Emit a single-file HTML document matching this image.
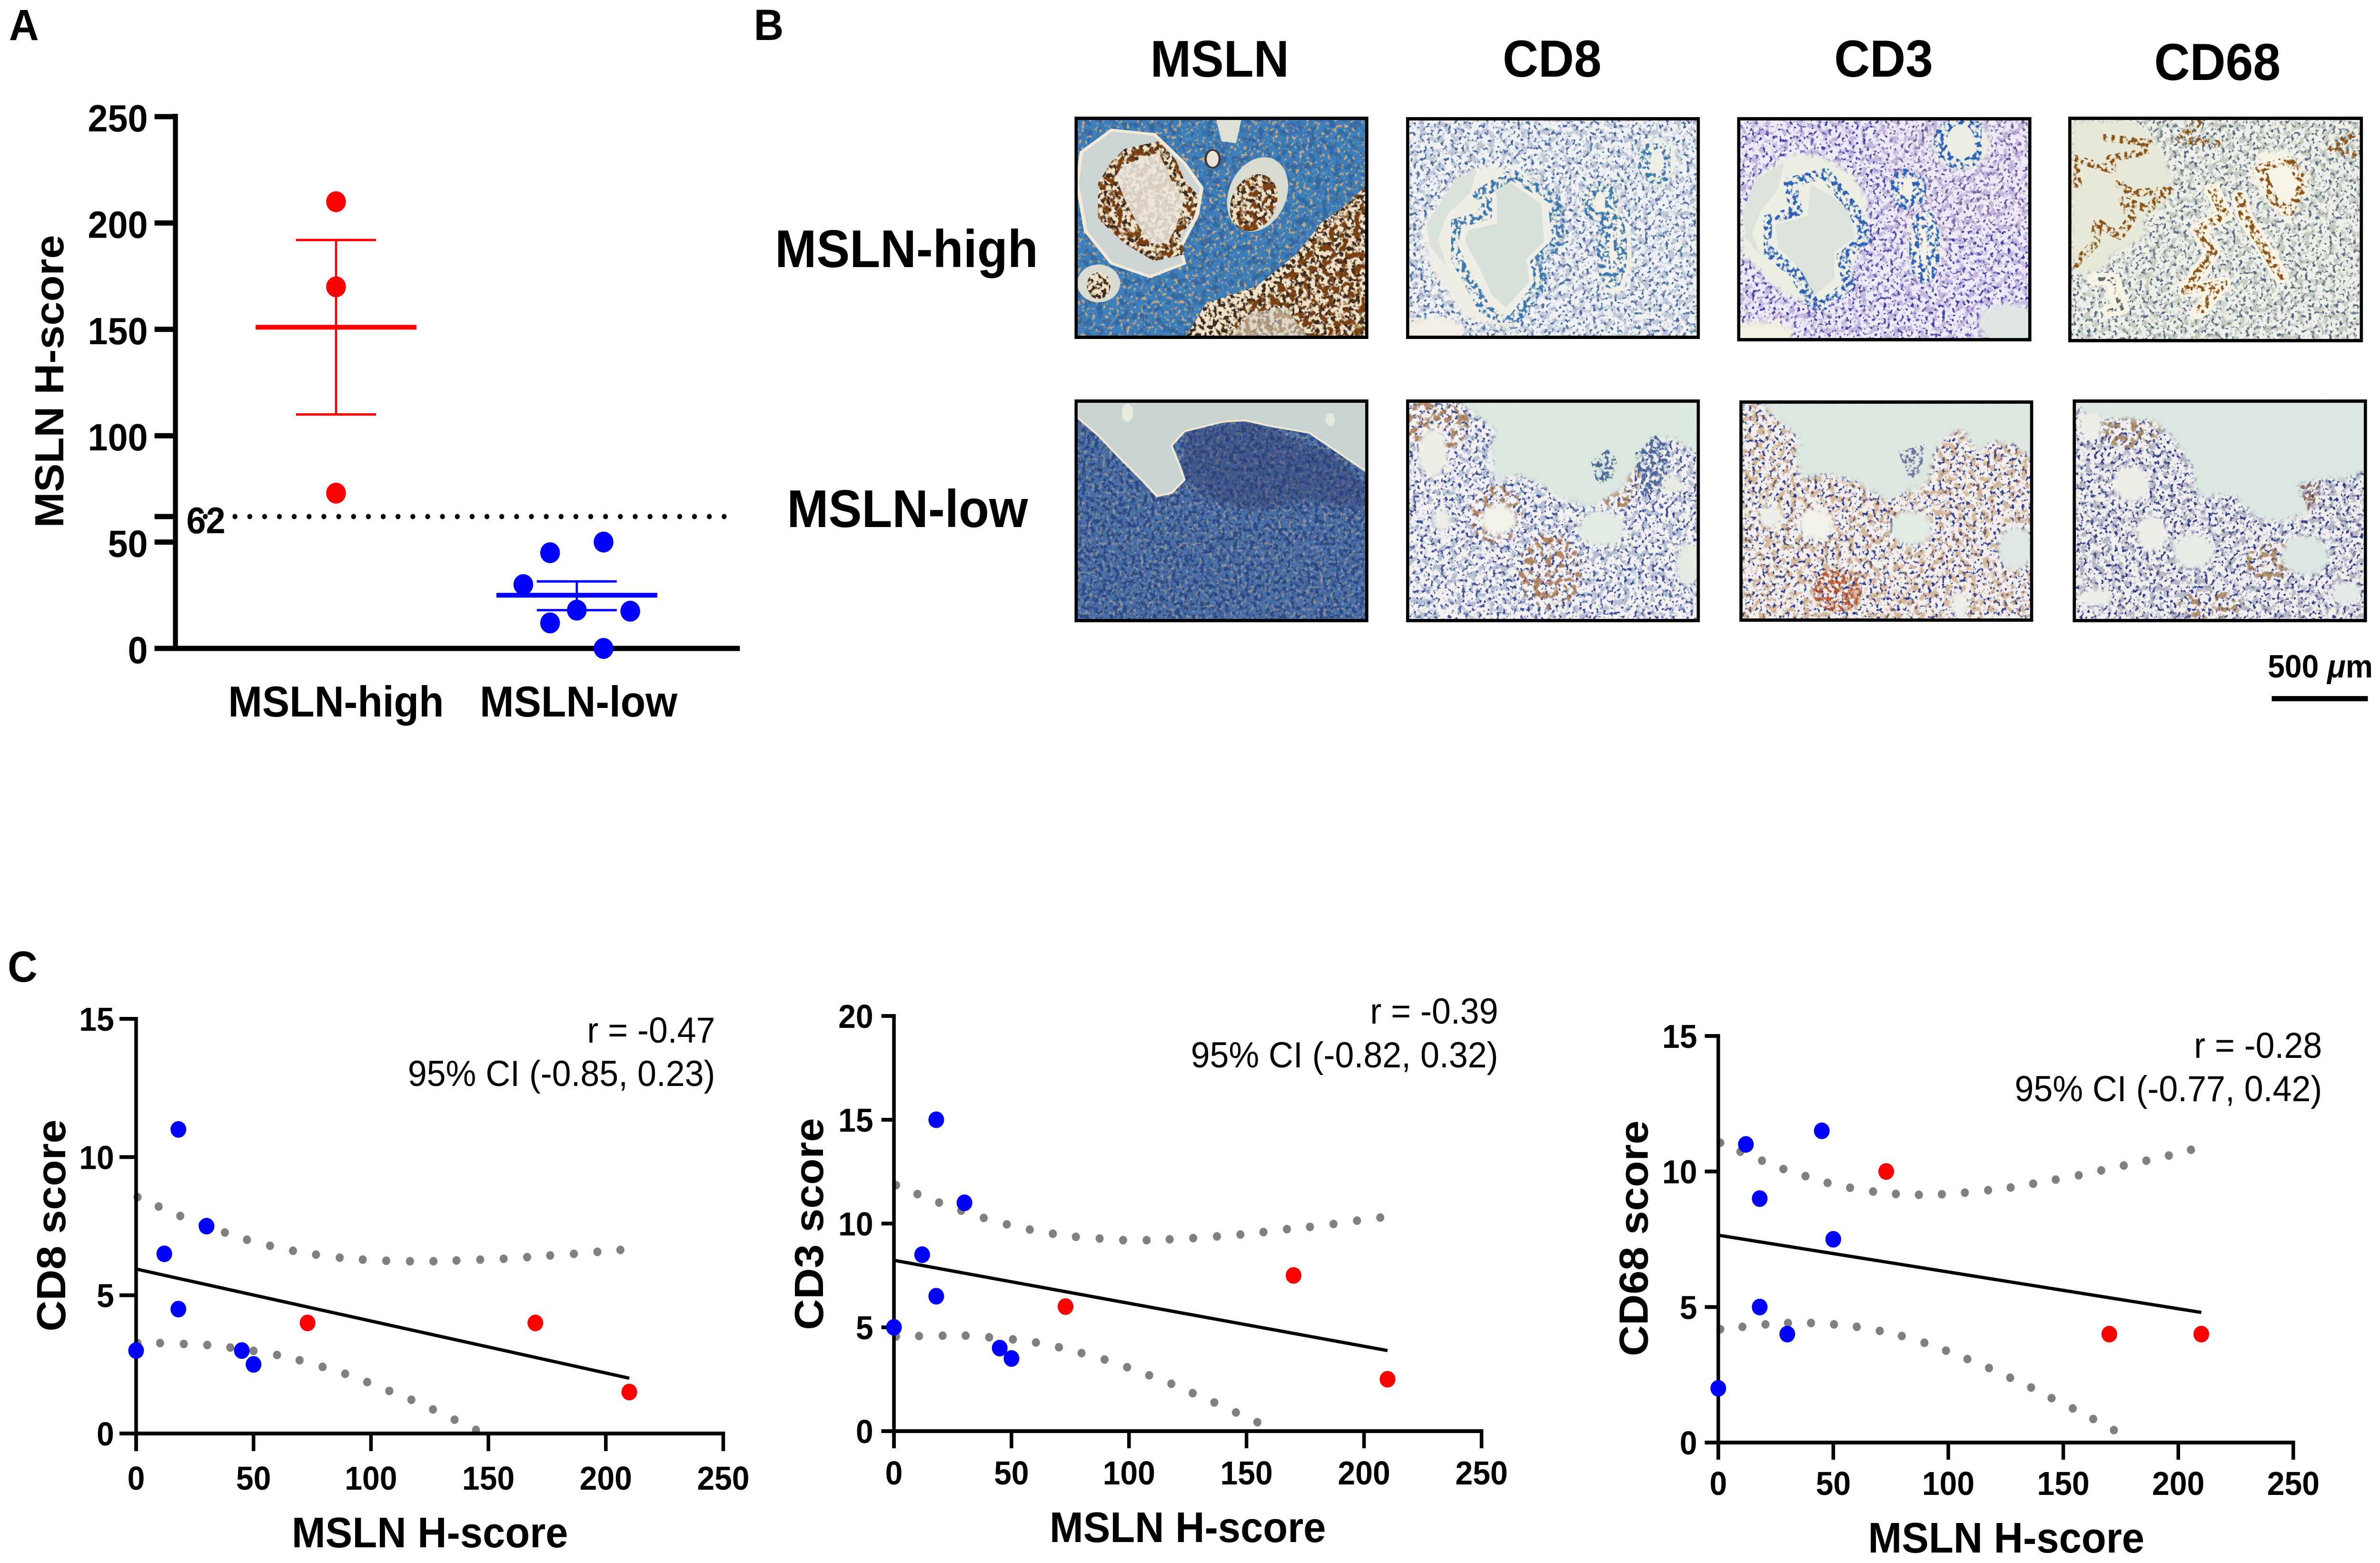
<!DOCTYPE html>
<html lang="en">
<head>
<meta charset="utf-8">
<title>MSLN H-score and immune infiltration</title>
<style>
html,body{margin:0;padding:0;background:#fff;width:100%;height:100%;overflow:hidden}
svg{display:block;width:100vw;height:100vh}
text{font-family:"Liberation Sans",Arial,sans-serif;fill:#000}
.b{font-weight:700}
</style>
</head>
<body>
<svg id="fig" xmlns="http://www.w3.org/2000/svg" viewBox="0 0 5298 3283" preserveAspectRatio="none">
<defs>
<filter id="s1" x="0" y="0" width="100%" height="100%" color-interpolation-filters="sRGB">
<feTurbulence type="fractalNoise" baseFrequency=".11" numOctaves="2" seed="3" result="n"/>
<feColorMatrix in="n" type="matrix" values="0 0 0 0 0 0 0 0 0 0 0 0 0 0 0 7 0 0 0 -3.3" result="m"/>
<feComposite in="SourceGraphic" in2="m" operator="in"/>
</filter>
<filter id="s2" x="0" y="0" width="100%" height="100%" color-interpolation-filters="sRGB">
<feTurbulence type="fractalNoise" baseFrequency=".13" numOctaves="2" seed="9" result="n"/>
<feColorMatrix in="n" type="matrix" values="0 0 0 0 0 0 0 0 0 0 0 0 0 0 0 8 0 0 0 -4.5" result="m"/>
<feComposite in="SourceGraphic" in2="m" operator="in"/>
</filter>
<filter id="s3" x="0" y="0" width="100%" height="100%" color-interpolation-filters="sRGB">
<feTurbulence type="fractalNoise" baseFrequency=".07" numOctaves="2" seed="5" result="n"/>
<feColorMatrix in="n" type="matrix" values="0 0 0 0 0 0 0 0 0 0 0 0 0 0 0 7 0 0 0 -3.5" result="m"/>
<feComposite in="SourceGraphic" in2="m" operator="in"/>
</filter>
<filter id="soft" x="-3%" y="-3%" width="106%" height="106%"><feGaussianBlur stdDeviation="5"/></filter>
<clipPath id="c1"><rect x="2392" y="245" width="654" height="467"/></clipPath>
<clipPath id="c2"><rect x="3130" y="246" width="654" height="466"/></clipPath>
<clipPath id="c3"><rect x="3867" y="246" width="655" height="471"/></clipPath>
<clipPath id="c4"><rect x="4604" y="245" width="656" height="474"/></clipPath>
<clipPath id="c5"><rect x="2392" y="839" width="654" height="468"/></clipPath>
<clipPath id="c6"><rect x="3130" y="839" width="654" height="468"/></clipPath>
<clipPath id="c7"><rect x="3872" y="841" width="654" height="465"/></clipPath>
<clipPath id="c8"><rect x="4614" y="839" width="655" height="468"/></clipPath>
</defs>
<rect width="5298" height="3283" fill="#fff"/>

<text class="b" x="20" y="84" font-size="92">A</text>
<text class="b" x="1678" y="84" font-size="92">B</text>
<text class="b" x="17" y="2062" font-size="92">C</text>

<g>
<text class="b" x="2715" y="161" font-size="109" text-anchor="middle">MSLN</text>
<text class="b" x="3455" y="161" font-size="110" text-anchor="middle">CD8</text>
<text class="b" x="4193" y="161" font-size="110" text-anchor="middle">CD3</text>
<text class="b" x="4936" y="168" font-size="110" text-anchor="middle">CD68</text>
<text class="b" x="2018" y="561" font-size="111" text-anchor="middle">MSLN-high</text>
<text class="b" x="2020" y="1107" font-size="111" text-anchor="middle">MSLN-low</text>
<text class="b" x="5282" y="1423" font-size="68" text-anchor="end">500 <tspan font-style="italic">μ</tspan>m</text>
<rect x="5057" y="1462" width="214" height="11" fill="#000"/>

<!-- MSLN high -->
<g clip-path="url(#c1)">
<rect x="2392" y="245" width="654" height="467" fill="#3d7fbb"/>
<rect x="2392" y="245" width="654" height="467" fill="#c9a77e" filter="url(#s2)"/>
<rect x="2392" y="245" width="654" height="467" fill="#2a5a94" filter="url(#s3)" opacity=".6"/>
<g transform="translate(2392 245) scale(6.54 4.67)">
<polygon fill="#efe2c6" points="100,30 100,100 37.5,100 44.7,84 62,76.2 75.4,62 84,47.8 93,39"/>
<polygon fill="#cdd5d4" stroke="#f2ead6" stroke-width="1.2" points="12.6,6 27.2,8 37.4,21 43.3,32 41.8,44 36,59 37.4,66 25.7,72 12.6,66 3.8,51.5 .9,30 2.3,16"/>
<polygon fill="#efe2c6" points="17,14.5 28.6,11 34.5,19.5 37.4,28.7 42.5,36 40.3,46 36,53.6 37.4,62 27,65 17,57 8,46 8,30 12.6,20.2"/>
<ellipse cx="62.3" cy="35" rx="10" ry="17" fill="#d8dbd0" transform="rotate(12 62.3 35)"/>
<ellipse cx="61" cy="38.7" rx="7.8" ry="13" fill="#efe2c6" transform="rotate(12 61 38.7)"/>
<ellipse cx="8.2" cy="75" rx="7.3" ry="8.5" fill="#d8dbd0"/>
<ellipse cx="8.2" cy="76" rx="4" ry="6" fill="#efe2c6"/>
<ellipse cx="47" cy="19" rx="2.4" ry="4" fill="#e8e4d4" stroke="#3c3a3a" stroke-width=".8"/>
<polygon fill="#dfe0d4" points="48,0 57,0 55,12 50,11"/>
</g>
<g filter="url(#s1)"><g transform="translate(2392 245) scale(6.54 4.67)" fill="#3c2a1e">
<polygon points="100,30 100,100 37.5,100 44.7,84 62,76.2 75.4,62 84,47.8 93,39"/>
<polygon points="17,14.5 28.6,11 34.5,19.5 37.4,28.7 42.5,36 40.3,46 36,53.6 37.4,62 27,65 17,57 8,46 8,30 12.6,20.2"/>
<ellipse cx="61" cy="38.7" rx="7.8" ry="13" transform="rotate(12 61 38.7)"/>
<ellipse cx="8.2" cy="76" rx="4" ry="6"/>
</g></g>
<g filter="url(#s3)"><g transform="translate(2392 245) scale(6.54 4.67)" fill="#7a4012">
<polygon points="100,30 100,100 52,100 58,84 68,76.2 78,62 86,48 93,39"/>
<polygon points="17,14.5 28.6,11 34.5,19.5 37.4,28.7 42.5,36 40.3,46 36,53.6 37.4,62 27,65 17,57 8,46 8,30 12.6,20.2"/>
<ellipse cx="61" cy="38.7" rx="7.8" ry="13" transform="rotate(12 61 38.7)"/>
</g></g>
<g transform="translate(2392 245) scale(6.54 4.67)">
<polygon fill="#ece8de" opacity=".85" points="17,21.6 28.6,16 33,28.7 37.4,37.2 34.5,50 31.6,57 25.7,57 21.3,48 17,37.2 14,26.6"/>
<polygon fill="#d8d4c4" opacity=".6" points="52,100 60,88 72,86 80,100"/>
</g>
</g>
<rect x="2395.5" y="248.5" width="647" height="460" fill="none" stroke="#000" stroke-width="7"/>

<!-- CD8 high -->
<g clip-path="url(#c2)">
<rect x="3130" y="246" width="654" height="466" fill="#eff1f3"/>
<rect x="3130" y="246" width="654" height="466" fill="#4a6a9c" filter="url(#s2)"/>
<rect x="3130" y="246" width="654" height="466" fill="#7f8fb0" filter="url(#s3)" opacity=".4"/>
<g filter="url(#soft)"><g transform="translate(3130 246) scale(6.54 4.66)">
<polygon fill="#f0efe6" points="27,21.7 39.3,23.5 50.4,37 51.9,56 44.5,65.6 46,74.8 36,92.7 35.8,95.5 19.7,90 8,67.7 5,51 12.4,37 16.8,27.8"/>
<ellipse cx="66" cy="38.5" rx="7" ry="9" fill="#f2f0e4"/>
<ellipse cx="71" cy="62" rx="6" ry="18" fill="#f2f0e6"/>
<ellipse cx="85.5" cy="20" rx="7" ry="11" fill="#eeefe6"/>
<ellipse cx="10" cy="96" rx="10" ry="6" fill="#f2f0e4"/>
</g></g>
<g transform="translate(3130 246) scale(6.54 4.66)">
<polygon fill="#d8e0da" points="30,29 36,30 46,39 47,56 41,64 42,74 34,86 29,80 25,68 20,56 21,51 31,48 31,38"/>
<polygon fill="#dae2dc" points="17,28 24,24 22,34 14,44 11,55 14,68 8,58 7,48 12,38"/>
</g>
<g filter="url(#s1)"><g transform="translate(3130 246) scale(6.54 4.66)" fill="none" stroke="#3f78ac" stroke-width="4.5" stroke-linejoin="round">
<polygon points="24.9,35 35.8,25.7 50.4,37 51.9,56 44.5,65.6 46,74.8 36,92.7 27,87 21,72.7 15.4,58.5 16.8,48 27,44.4 27,37"/>
<ellipse cx="66" cy="38" rx="4" ry="7"/><ellipse cx="70" cy="60" rx="3" ry="15"/><ellipse cx="85.5" cy="20" rx="4.5" ry="8"/>
</g></g>
</g>
<rect x="3133.5" y="249.5" width="647" height="459" fill="none" stroke="#000" stroke-width="7"/>

<!-- CD3 high -->
<g clip-path="url(#c3)">
<rect x="3867" y="246" width="655" height="471" fill="#efebf6"/>
<rect x="3867" y="246" width="655" height="471" fill="#3e3ea4" filter="url(#s2)"/>
<rect x="3867" y="246" width="655" height="471" fill="#9a86c4" filter="url(#s3)" opacity=".5"/>
<rect x="4200" y="246" width="322" height="240" fill="#c48f8f" filter="url(#s2)" opacity=".35"/>
<g filter="url(#soft)"><g transform="translate(3867 246) scale(6.55 4.71)">
<polygon fill="#eeefe4" points="18.6,16 30,18 39.7,26 44,36.7 44,54 39.7,65 38.3,75.5 30,86 15.8,79 1.7,61 1.7,43.7 7.3,26"/>
<ellipse cx="58" cy="32" rx="6" ry="8" fill="#f2f0e4"/>
<ellipse cx="63.7" cy="58" rx="6" ry="16" fill="#f4f2e8"/>
<ellipse cx="76" cy="12" rx="10" ry="12" fill="#eceee6"/>
<ellipse cx="8" cy="97" rx="11" ry="6" fill="#f2f0e0"/>
<ellipse cx="92" cy="92" rx="10" ry="9" fill="#dfe6e4"/>
</g></g>
<g transform="translate(3867 246) scale(6.55 4.71)">
<polygon fill="#dbe3da" points="25,30 33,36 38,42 40,54 33,60 33,72 26,80 20,66 14,58 13,48 24,44"/>
<polygon fill="#dbe3da" points="6,28 16,20 14,32 8,42 5,52 8,62 3,54 2,42"/>
</g>
<g filter="url(#s1)"><g transform="translate(3867 246) scale(6.55 4.71)" fill="none" stroke="#2f62b4" stroke-width="4.5" stroke-linejoin="round">
<polygon points="18,29 30,25 40,42 44,54 36,62 38,75 27,86 20,70 9,58 10,46 20,42"/>
<ellipse cx="58" cy="32" rx="4" ry="7"/><ellipse cx="63.7" cy="58" rx="3" ry="14"/><ellipse cx="76" cy="11" rx="7" ry="10"/>
</g></g>
</g>
<rect x="3870.5" y="249.5" width="648" height="464" fill="none" stroke="#000" stroke-width="7"/>

<!-- CD68 high -->
<g clip-path="url(#c4)">
<rect x="4604" y="245" width="656" height="474" fill="#eff0e8"/>
<rect x="4604" y="245" width="656" height="474" fill="#566a84" filter="url(#s2)"/>
<rect x="4604" y="245" width="656" height="474" fill="#9aa49a" filter="url(#s3)" opacity=".45"/>
<g filter="url(#soft)"><g transform="translate(4604 245) scale(6.56 4.74)">
<polygon fill="#e8e8d8" points="1,1.7 22.8,1.7 31.4,14 34.2,22.7 35.6,33.9 31.4,41 25.8,44 25.8,54 14.5,62 11.7,68 3.2,70.3 1,67"/>
<polygon fill="#f6f4e6" points="65.2,16 75,14 82,29.7 75,47 67,38 62,26"/>
</g></g>
<g transform="translate(4604 245) scale(6.56 4.74)" fill="none" stroke="#f7f4e6" stroke-width="5.5" stroke-linejoin="round" stroke-linecap="round">
<polyline points="49,32.5 53.2,43.7 44,50 49,60 39.9,77.3 52.5,73.8 44,87"/>
<polyline points="58.2,35.3 59.6,43.7 72.3,71"/>
<polyline points="9,72 15,72 18,85 14,86"/>
</g>
<g filter="url(#s1)"><g transform="translate(4604 245) scale(6.56 4.74)" fill="none" stroke="#8a5418" stroke-width="3.4" stroke-linejoin="round" stroke-linecap="round">
<polyline points="12.4,9.4 27,11.5 25.8,15.7 14.5,18.5 14.5,23.4 1.8,18.5 3,30"/>
<polyline points="17.3,29.7 21.5,34 34,32.5 27,41 18.7,37 21.5,45 17.3,53 10,47 9,56.3 1.8,66"/>
<polygon points="65.2,22.7 75,19.2 80,29.7 75,42.3 69.4,36.7"/>
<polyline points="49,32.5 53.2,43.7 44,50 49,60 39.9,77.3 52.5,73.8 44,87"/>
<polyline points="58.2,35.3 59.6,43.7 72.3,71"/>
<polyline stroke="#5d6a6a" stroke-width="1.8" points="9,72 15,72 18,85 14,86"/>
<polyline points="96,8 90,14 100,18"/>
<polyline points="45,1 38,10 50,12"/>
</g></g>
</g>
<rect x="4607.5" y="248.5" width="649" height="467" fill="none" stroke="#000" stroke-width="7"/>

<!-- MSLN low -->
<g clip-path="url(#c5)">
<rect x="2392" y="839" width="654" height="468" fill="#4a6fa6"/>
<rect x="2392" y="839" width="654" height="468" fill="#23407c" filter="url(#s1)" opacity=".8"/>
<rect x="2392" y="839" width="654" height="468" fill="#c9b492" filter="url(#s2)" opacity=".5"/>
<g filter="url(#soft)"><g transform="translate(2392 839) scale(6.54 4.68)">
<polygon fill="#2e3a6c" opacity=".4" points="38,14 60,10 90,26 100,40 100,50 80,45 60,50 45,44 36,34"/>
</g></g>
<g transform="translate(2392 839) scale(6.54 4.68)">
<polygon fill="#c9d4d2" stroke="#f3e8cf" stroke-width=".8" points="1,0 100,0 100,33 90,24 80,15 67,12 58,9.4 50.6,10 37.4,14.3 33,20.7 36,30.6 37.4,36 33,42 28,43.4 22.8,36 15.5,26.4 8,16 .9,8"/>
<ellipse cx="18" cy="6" rx="2" ry="4" fill="#e8ecdc"/>
<ellipse cx="87" cy="9" rx="1.6" ry="3" fill="#e4e8da"/>
</g>
</g>
<rect x="2395.5" y="842.5" width="647" height="461" fill="none" stroke="#000" stroke-width="7"/>

<!-- CD8 low -->
<g clip-path="url(#c6)">
<rect x="3130" y="839" width="654" height="468" fill="#f3f1f1"/>
<rect x="3130" y="839" width="654" height="468" fill="#3c4c92" filter="url(#s2)"/>
<rect x="3130" y="839" width="654" height="468" fill="#5f7ca8" filter="url(#s3)" opacity=".4"/>
<g filter="url(#s3)"><g opacity=".65" fill="#b06a2c">
<ellipse cx="3200" cy="890" rx="70" ry="55"/>
<ellipse cx="3330" cy="1080" rx="60" ry="60"/>
<ellipse cx="3450" cy="1200" rx="70" ry="80"/>
<ellipse cx="3600" cy="990" rx="50" ry="80"/>
</g></g>
<g filter="url(#soft)"><g transform="translate(3130 839) scale(6.54 4.68)">
<polygon fill="#dce7df" points="18,0 100,0 100,25 91,18 84,17 80,26 74,40 62.6,49 52,44 46,38.4 37.4,33.5 30,38 29,24 30,14"/>
<ellipse cx="66.5" cy="58" rx="8" ry="8" fill="#e2ebe4"/>
<ellipse cx="31.4" cy="54" rx="6" ry="7" fill="#f2f2ea"/>
<ellipse cx="12" cy="54" rx="3" ry="5" fill="#eef0e8"/>
<ellipse cx="9" cy="24" rx="5" ry="11" fill="#eef0e8"/>
<ellipse cx="96" cy="74" rx="4" ry="10" fill="#e6ebe2"/>
<ellipse cx="90" cy="38" rx="4" ry="4" fill="#e8ebe2"/>
</g></g>
<g filter="url(#s1)"><g transform="translate(3130 839) scale(6.54 4.68)" fill="#4f6a9a">
<polygon points="63,28 69,22 72,28 70,36 65,38"/>
<polygon points="78,24 85,16 90,24 88,40 80,44"/>
</g></g>
</g>
<rect x="3133.5" y="842.5" width="647" height="461" fill="none" stroke="#000" stroke-width="7"/>

<!-- CD3 low -->
<g clip-path="url(#c7)">
<rect x="3872" y="841" width="654" height="465" fill="#f3efec"/>
<rect x="3872" y="841" width="654" height="465" fill="#2f3d90" filter="url(#s2)"/>
<rect x="3872" y="841" width="654" height="465" fill="#b07a40" filter="url(#s3)" opacity=".45"/>
<ellipse cx="4090" cy="1240" rx="55" ry="45" fill="#b4481e" filter="url(#s1)" opacity=".85"/>
<g filter="url(#soft)"><g transform="translate(3872 841) scale(6.54 4.65)">
<polygon fill="#dbe7df" points="6.5,0 100,0 100,27 94,20 85.6,18.4 81.4,24 75.7,12.7 70,17 66,24 64.4,37.6 50.3,45.5 39,36 29,33.4 20.6,35.5 19,24 20.6,17 13.6,10"/>
<ellipse cx="58.7" cy="57.7" rx="7" ry="8" fill="#e2ebe4"/>
<ellipse cx="26" cy="56" rx="6" ry="7" fill="#f2f2ea"/>
<ellipse cx="94" cy="67" rx="6" ry="10" fill="#dfe8e2"/>
<ellipse cx="10.7" cy="52.6" rx="4" ry="5" fill="#eef0e8"/>
<ellipse cx="75" cy="92" rx="3" ry="6" fill="#eef0e8"/>
</g></g>
<g filter="url(#s1)"><g transform="translate(3872 841) scale(6.54 4.65)" fill="#6a70a0">
<polygon points="54,23 63,20 62,32 58,36"/>
</g></g>
</g>
<rect x="3875.5" y="844.5" width="647" height="458" fill="none" stroke="#000" stroke-width="7"/>

<!-- CD68 low -->
<g clip-path="url(#c8)">
<rect x="4614" y="839" width="655" height="468" fill="#f1eeee"/>
<rect x="4614" y="839" width="655" height="468" fill="#2f3a86" filter="url(#s2)"/>
<rect x="4614" y="839" width="655" height="468" fill="#6f7a94" filter="url(#s3)" opacity=".45"/>
<g filter="url(#s3)"><g opacity=".55" fill="#a8702c">
<ellipse cx="4740" cy="900" rx="70" ry="40"/>
<ellipse cx="5060" cy="1180" rx="60" ry="40"/>
<ellipse cx="4920" cy="1270" rx="70" ry="30"/>
</g></g>
<g filter="url(#soft)"><g transform="translate(4614 839) scale(6.55 4.68)">
<polygon fill="#dbe7e0" points="0,0 100,0 100,30.6 93.4,36 86,35.6 76.5,38.4 80.7,50 70.8,55.5 62.4,52.6 54,42.7 42.8,44 40,28 33,16 27,9.4 10,8.6 3,5"/>
<ellipse cx="27" cy="60" rx="5" ry="8" fill="#eef0e8"/>
<ellipse cx="41" cy="68" rx="7" ry="8" fill="#e8ece6"/>
<ellipse cx="79" cy="70" rx="8" ry="9" fill="#dde8e2"/>
<ellipse cx="7.5" cy="89" rx="6" ry="4" fill="#eef0e8"/>
<ellipse cx="93" cy="87" rx="5" ry="5" fill="#e4ebe6"/>
<ellipse cx="20" cy="38" rx="6" ry="8" fill="#eef0e8"/>
<ellipse cx="6" cy="12" rx="4" ry="6" fill="#eef0e8"/>
</g></g>
<g filter="url(#s1)"><g transform="translate(4614 839) scale(6.55 4.68)" fill="#8c6a54">
<polygon points="77,39 84,36 84,46 80,50"/>
</g></g>
</g>
<rect x="4617.5" y="842.5" width="648" height="461" fill="none" stroke="#000" stroke-width="7"/>
</g>
</svg>

<script>
/* ---------- Panel A data ---------- */
const hscoreTicks = [0, 50, 100, 150, 200, 250];
const hscoreThreshold = 62;
const groupLabels = ['MSLN-high', 'MSLN-low'];
const highValues = [210, 170, 73];
const highSwarm = [0, 0, 0];
const lowValues = [50, 45, 30, 18, 17.5, 12, 0];
const lowSwarm = [1, -1, -2, 0, 2, -1, 1];
const groupMeans = [151, 25];
const groupUpper = [192, 31.5];
const groupLower = [110, 18];

/* ---------- Panel C data ---------- */
const scoreXTicks = [0, 50, 100, 150, 200, 250];
const blueHscore = [0, 12, 18, 18, 30, 45, 50];
const redHscore = [73, 170, 210];

const cd8Ticks = [0, 5, 10, 15];
const cd8Blue = [3, 6.5, 11, 4.5, 7.5, 3, 2.5];
const cd8Red = [4, 4, 1.5];
const cd8FitX = [0, 210];
const cd8FitY = [5.95, 2.0];
const cd8UpperX = [0.6, 9.6, 18.8, 28.2, 37.8, 47.2, 57, 66.8, 76.6, 86.7, 96.5, 106.5, 116.6, 126.6, 136.4, 146.5, 156.5, 166.5, 176.3, 186.4, 196.4, 206.2];
const cd8UpperY = [8.55, 8.21, 7.87, 7.55, 7.27, 7.01, 6.79, 6.61, 6.47, 6.36, 6.29, 6.25, 6.23, 6.23, 6.26, 6.29, 6.32, 6.38, 6.44, 6.5, 6.57, 6.64];
const cd8LowerX = [0.6, 10.2, 20.3, 30.3, 40.1, 50, 60, 69.6, 79.4, 89, 98.4, 107.8, 117.2, 126.4, 135.6, 144.7];
const cd8LowerY = [3.27, 3.27, 3.24, 3.2, 3.11, 2.99, 2.84, 2.65, 2.41, 2.16, 1.86, 1.54, 1.22, 0.87, 0.5, 0.13];

const cd3Ticks = [0, 5, 10, 15, 20];
const cd3Blue = [5, 8.5, 15, 6.5, 11, 4, 3.5];
const cd3Red = [6, 7.5, 2.5];
const cd3FitX = [0, 210];
const cd3FitY = [8.23, 3.88];
const cd3UpperX = [0.9, 10, 19.2, 28.6, 38.2, 48, 57.8, 67.6, 77.4, 87.5, 97.5, 107.5, 117.3, 127.3, 137.4, 147.4, 157.2, 167.2, 177, 187, 197, 206.9];
const cd3UpperY = [11.85, 11.42, 11.01, 10.62, 10.27, 9.96, 9.71, 9.51, 9.36, 9.28, 9.2, 9.2, 9.24, 9.3, 9.38, 9.47, 9.59, 9.73, 9.84, 9.98, 10.14, 10.29];
const cd3LowerX = [0.9, 10.7, 20.7, 30.5, 40.5, 50.6, 60.4, 70.2, 79.8, 89.6, 99.2, 108.6, 118, 127.1, 136.3, 145.5, 154.6];
const cd3LowerY = [4.56, 4.58, 4.6, 4.6, 4.52, 4.42, 4.27, 4.04, 3.76, 3.45, 3.08, 2.69, 2.28, 1.83, 1.38, 0.9, 0.43];

const cd68Ticks = [0, 5, 10, 15];
const cd68Blue = [2, 11, 9, 5, 4, 11.5, 7.5];
const cd68Red = [10, 4, 4];
const cd68FitX = [0, 210];
const cd68FitY = [7.65, 4.8];
const cd68UpperX = [0.9, 9.6, 19, 28.3, 37.9, 47.5, 57.3, 67.3, 77.2, 87.2, 97.2, 107.2, 117.3, 127.1, 136.9, 146.7, 156.7, 166.5, 176.3, 186.1, 195.9, 205.5];
const cd68UpperY = [11.06, 10.73, 10.4, 10.09, 9.83, 9.58, 9.4, 9.26, 9.17, 9.14, 9.16, 9.22, 9.31, 9.41, 9.55, 9.7, 9.86, 10.04, 10.22, 10.4, 10.59, 10.8];
const cd68LowerX = [0.9, 10.5, 20.5, 30.3, 40.3, 50.3, 60.2, 70.2, 79.8, 89.6, 99, 108.3, 117.7, 126.9, 136, 144.9, 154.1, 163, 172];
const cd68LowerY = [4.18, 4.27, 4.36, 4.41, 4.41, 4.36, 4.27, 4.12, 3.93, 3.68, 3.39, 3.08, 2.75, 2.39, 2.03, 1.64, 1.26, 0.87, 0.46];

/* ---------- Helpers ---------- */
const svgRoot = document.getElementById('fig');
const NS = 'http://www.w3.org/2000/svg';
function make(parent, tag, attrs, label) {
  const node = document.createElementNS(NS, tag);
  for (const k in attrs) node.setAttribute(k, attrs[k]);
  if (label !== undefined) node.textContent = label;
  parent.appendChild(node);
  return node;
}
function line(parent, x1, y1, x2, y2, color, w, name) {
  const el = make(parent, 'line', { x1, y1, x2, y2, stroke: color, 'stroke-width': w });
  
  
  return el;
}
function dot(parent, cx, cy, r, color, name) {
  const el = make(parent, 'circle', { cx, cy, r, fill: color });
  
  
  return el;
}
function label(parent, x, y, size, anchor, bold, str, name, rotate) {
  const a = { x, y, 'font-size': size, 'text-anchor': anchor };
  if (bold) a['class'] = 'b';
  if (rotate) a.transform = 'rotate(-90 ' + x + ' ' + y + ')';
  const el = make(parent, 'text', a, str);
  
  
  return el;
}

/* ---------- Panel A ---------- */
(function drawPanelA() {
  const g = make(svgRoot, 'g', {});
  
  
  const y = v => 1362 - v * (1117 / 250);
  const catX = i => 748 + i * 536;
  const swarmStep = 59.5;

  // threshold dotted line
  for (let px = 457; px <= 1620; px += 33) {
    dot(g, px, y(hscoreThreshold), 5.5, '#000', 'threshold-dot');
  }

  line(g, 390.5, y(250) - 6, 390.5, 1367, '#000', 11, 'y-axis');
  line(g, 344, 1362, 1647, 1362, '#000', 11, 'x-axis');
  hscoreTicks.forEach(t => {
    line(g, 344, y(t), 390, y(t), '#000', 11, 'y-tick');
    label(g, 329, y(t) + 31, 80, 'end', true, String(t), 'y-tick-label');
  });
  line(g, 344, y(hscoreThreshold), 390, y(hscoreThreshold), '#000', 11, 'threshold-tick');
  label(g, 415, 1120, 78, 'start', true, String(hscoreThreshold), 'threshold-label');
  label(g, 141, 801, 90, 'middle', true, 'MSLN H-score', 'y-axis-title', true);

  const colors = ['#ff0000', '#0000ff'];
  const stats = (i, name) => {
    const c = colors[i], cx = catX(i);
    line(g, cx, y(groupUpper[i]), cx, y(groupLower[i]), c, 5, name + '-error-stem');
    line(g, cx - 89, y(groupUpper[i]), cx + 89, y(groupUpper[i]), c, 5, name + '-error-cap-upper');
    line(g, cx - 89, y(groupLower[i]), cx + 89, y(groupLower[i]), c, 5, name + '-error-cap-lower');
    line(g, cx - 179, y(groupMeans[i]), cx + 179, y(groupMeans[i]), c, 10, name + '-mean-line');
  };
  stats(0, 'msln-high');
  stats(1, 'msln-low');
  highValues.forEach((v, i) => dot(g, catX(0) + highSwarm[i] * swarmStep, y(v), 22, colors[0], 'msln-high-point'));
  lowValues.forEach((v, i) => dot(g, catX(1) + lowSwarm[i] * swarmStep, y(v), 22, colors[1], 'msln-low-point'));

  label(g, 748, 1505, 91, 'middle', true, groupLabels[0], 'x-label-msln-high');
  label(g, 1288, 1505, 91, 'middle', true, groupLabels[1], 'x-label-msln-low');
})();

/* ---------- Panel C ---------- */
function scatterPanel(name, box, yMax, yTicks, yTitle, blue, red, fitX, fitY, upX, upY, loX, loY, rText, ciText) {
  const g = make(svgRoot, 'g', {});
  
  
  const x = v => box.x0 + v * (box.x1 - box.x0) / 250;
  const y = v => box.y0 - v * (box.y0 - box.y1) / yMax;

  upX.forEach((v, i) => dot(g, x(v), y(upY[i]), 9, '#808080', 'ci-upper-dot'));
  loX.forEach((v, i) => dot(g, x(v), y(loY[i]), 9, '#808080', 'ci-lower-dot'));

  line(g, box.x0, box.y1 - 4, box.x0, box.tickB, '#000', 8, 'y-axis');
  line(g, box.tickL, box.y0, box.x1 + 4, box.y0, '#000', 8, 'x-axis');
  yTicks.forEach(t => {
    line(g, box.tickL, y(t), box.x0, y(t), '#000', 8, 'y-tick');
    label(g, box.yLab, y(t) + 25, 70, 'end', true, String(t), 'y-tick-label');
  });
  scoreXTicks.forEach(t => {
    line(g, x(t), box.y0, x(t), box.tickB, '#000', 8, 'x-tick');
    label(g, x(t), box.xLab, 70, 'middle', true, String(t), 'x-tick-label');
  });
  label(g, box.titleX, box.titleY, 90, 'middle', true, 'MSLN H-score', 'x-axis-title');
  label(g, box.yTitleX, box.yTitleY, 90, 'middle', true, yTitle, 'y-axis-title', true);

  line(g, x(fitX[0]), y(fitY[0]), x(fitX[1]), y(fitY[1]), '#000', 7, 'regression-line');
  redHscore.forEach((v, i) => dot(g, x(v), y(red[i]), 17.5, '#ff0000', 'msln-high-point'));
  blueHscore.forEach((v, i) => dot(g, x(v), y(blue[i]), 17.5, '#0000ff', 'msln-low-point'));

  label(g, box.annX, box.rY, 76, 'end', false, rText, 'correlation-r');
  label(g, box.annX, box.ciY, 76, 'end', false, ciText, 'correlation-ci');
}

scatterPanel('panel-c-cd8',
  { x0: 303, x1: 1610, y0: 3011, y1: 2140, tickL: 266, tickB: 3048, yLab: 254, xLab: 3129, titleX: 957, titleY: 3250, yTitleX: 145, yTitleY: 2574, annX: 1592, rY: 2190, ciY: 2281 },
  15, cd8Ticks, 'CD8 score', cd8Blue, cd8Red, cd8FitX, cd8FitY, cd8UpperX, cd8UpperY, cd8LowerX, cd8LowerY,
  'r = -0.47', '95% CI (-0.85, 0.23)');

scatterPanel('panel-c-cd3',
  { x0: 1990, x1: 3298, y0: 3006, y1: 2134, tickL: 1962, tickB: 3042, yLab: 1944, xLab: 3118, titleX: 2644, titleY: 3239, yTitleX: 1832, yTitleY: 2571, annX: 3335, rY: 2150, ciY: 2242 },
  20, cd3Ticks, 'CD3 score', cd3Blue, cd3Red, cd3FitX, cd3FitY, cd3UpperX, cd3UpperY, cd3LowerX, cd3LowerY,
  'r = -0.39', '95% CI (-0.82, 0.32)');

scatterPanel('panel-c-cd68',
  { x0: 3825, x1: 5105, y0: 3030, y1: 2176, tickL: 3795, tickB: 3066, yLab: 3778, xLab: 3140, titleX: 4466, titleY: 3261, yTitleX: 3668, yTitleY: 2601, annX: 5169, rY: 2222, ciY: 2313 },
  15, cd68Ticks, 'CD68 score', cd68Blue, cd68Red, cd68FitX, cd68FitY, cd68UpperX, cd68UpperY, cd68LowerX, cd68LowerY,
  'r = -0.28', '95% CI (-0.77, 0.42)');
</script>
</body>
</html>
